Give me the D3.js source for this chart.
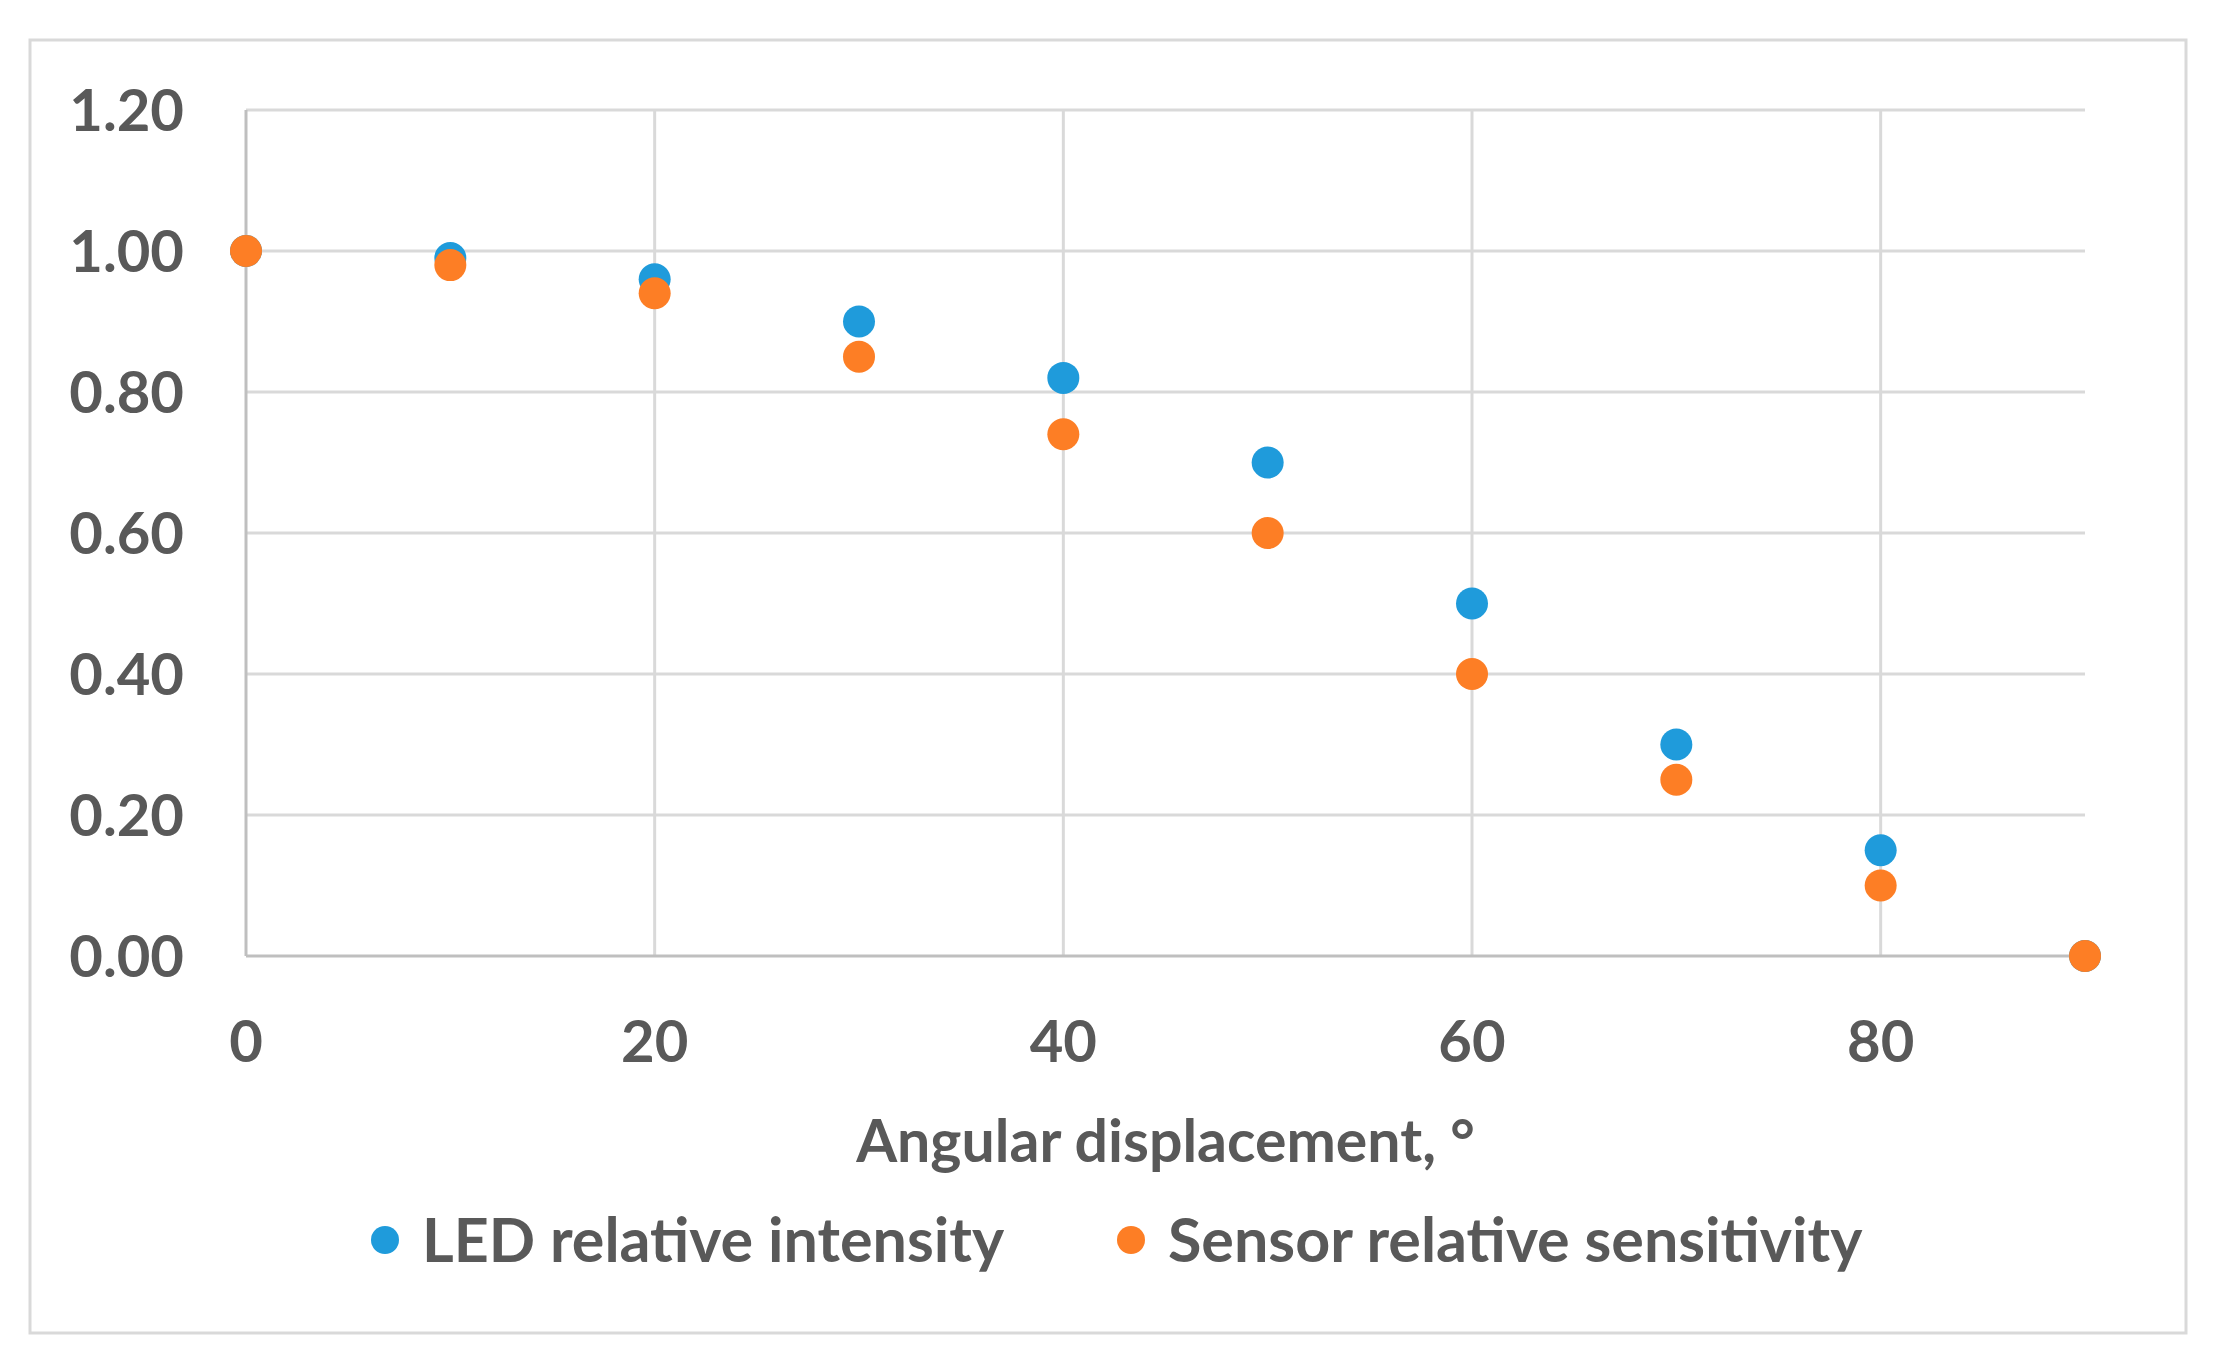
<!DOCTYPE html>
<html><head><meta charset="utf-8">
<script src="https://cdn.jsdelivr.net/npm/d3@7"></script>
<style>html,body{margin:0;padding:0;background:#fff;} svg{display:block;}</style>
</head><body>
<svg id="chart" width="2214" height="1364"></svg>
<script>
const angles = [0, 10, 20, 30, 40, 50, 60, 70, 80, 90];
const ledIntensity = [1.00, 0.99, 0.96, 0.90, 0.82, 0.70, 0.50, 0.30, 0.15, 0.00];
const sensorSensitivity = [1.00, 0.98, 0.94, 0.85, 0.74, 0.60, 0.40, 0.25, 0.10, 0.00];
const xTicks = [0, 20, 40, 60, 80];
const yTicks = [0, 0.2, 0.4, 0.6, 0.8, 1.0, 1.2];
const seriesNames = ["LED relative intensity", "Sensor relative sensitivity"];
const seriesColors = ["#1F9BDB", "#FD7E25"];

const svg = d3.select("#chart");
const font = "Lato, 'Open Sans', sans-serif";
const textColor = "#595959";

// outer border
svg.append("rect").attr("x", 30).attr("y", 40).attr("width", 2156).attr("height", 1293)
  .attr("fill", "#fff").attr("stroke", "#D9D9D9").attr("stroke-width", 3);

const x = d3.scaleLinear().domain([0, 90]).range([246, 2085]);
const y = d3.scaleLinear().domain([0, 1.2]).range([956, 110]);

// horizontal gridlines
svg.append("g").selectAll("line").data(yTicks.filter(d => d > 0)).join("line")
  .attr("x1", x(0)).attr("x2", x(90)).attr("y1", d => y(d)).attr("y2", d => y(d))
  .attr("stroke", "#D9D9D9").attr("stroke-width", 3);
// vertical gridlines
svg.append("g").selectAll("line").data(xTicks.filter(d => d > 0)).join("line")
  .attr("x1", d => x(d)).attr("x2", d => x(d)).attr("y1", y(0)).attr("y2", y(1.2))
  .attr("stroke", "#D9D9D9").attr("stroke-width", 3);
// axes lines
svg.append("line").attr("x1", x(0)).attr("x2", x(0)).attr("y1", y(0)).attr("y2", y(1.2))
  .attr("stroke", "#BFBFBF").attr("stroke-width", 3);
svg.append("line").attr("x1", x(0)).attr("x2", x(90)).attr("y1", y(0)).attr("y2", y(0))
  .attr("stroke", "#BFBFBF").attr("stroke-width", 3);

// y tick labels
svg.append("g").selectAll("text").data(yTicks).join("text")
  .attr("x", 184).attr("y", d => y(d) + 21).attr("text-anchor", "end")
  .attr("font-family", font).attr("font-weight", 700).attr("font-size", 58).attr("fill", textColor)
  .text(d => d3.format(".2f")(d));
// x tick labels
svg.append("g").selectAll("text").data(xTicks).join("text")
  .attr("x", d => x(d)).attr("y", 1062).attr("text-anchor", "middle")
  .attr("font-family", font).attr("font-weight", 700).attr("font-size", 58).attr("fill", textColor)
  .text(d => d);
// axis title
svg.append("text").attr("x", (x(0) + x(90)) / 2).attr("y", 1162).attr("text-anchor", "middle")
  .attr("font-family", font).attr("font-weight", 700).attr("font-size", 59).attr("fill", textColor)
  .text("Angular displacement, °");

// points
const series = [ledIntensity, sensorSensitivity];
series.forEach((vals, i) => {
  svg.append("g").selectAll("circle").data(vals.map((v, j) => [angles[j], v])).join("circle")
    .attr("cx", d => x(d[0])).attr("cy", d => y(d[1])).attr("r", 16)
    .attr("fill", seriesColors[i]);
});

// legend
const legendPos = [{mx: 385, tx: 422}, {mx: 1131, tx: 1168}];
seriesNames.forEach((name, i) => {
  svg.append("circle").attr("cx", legendPos[i].mx).attr("cy", 1240).attr("r", 14).attr("fill", seriesColors[i]);
  svg.append("text").attr("x", legendPos[i].tx).attr("y", 1262)
    .attr("font-family", font).attr("font-weight", 700).attr("font-size", 61).attr("fill", textColor)
    .text(name);
});
</script>
</body></html>
